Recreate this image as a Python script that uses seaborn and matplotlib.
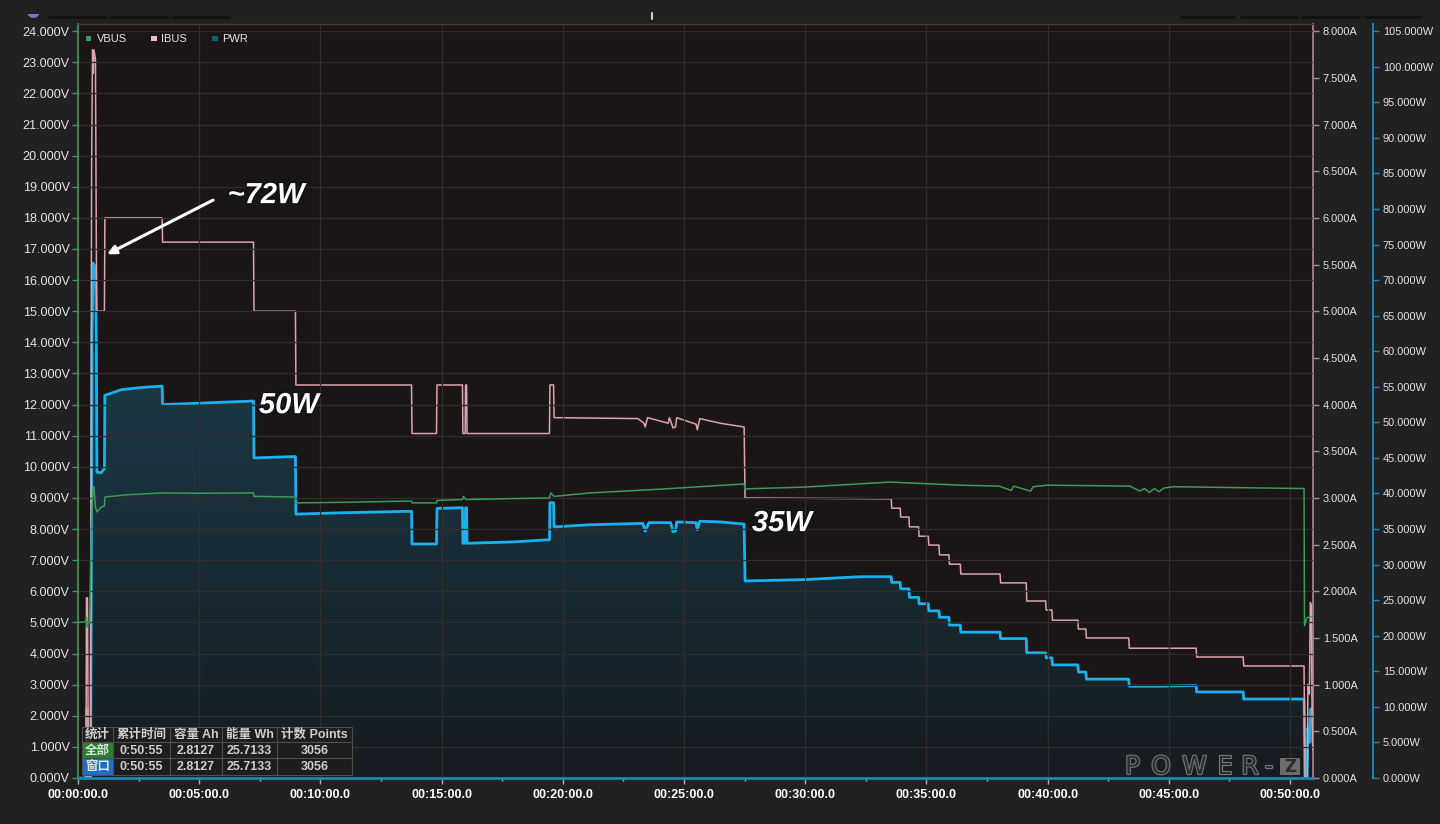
import numpy as np
import pandas as pd
import matplotlib
matplotlib.use("Agg")
import matplotlib.pyplot as plt
import seaborn as sns
from matplotlib.ticker import MultipleLocator, FuncFormatter
from matplotlib.patches import Rectangle, Ellipse
from matplotlib.colors import LinearSegmentedColormap
import matplotlib.patheffects as pe

# ---------------- data (time in minutes) ----------------
pwr_t = [
    0.00, 0.33, 0.37, 0.41, 0.45, 0.52, 0.58, 0.62, 0.66, 0.72,
    0.76, 0.78, 0.95, 1.09, 1.11, 1.80, 2.60, 3.47, 3.49, 5.00,
    7.24, 7.26, 8.97, 8.99, 11.0, 13.76, 13.78, 14.79, 14.81, 15.86,
    15.88, 15.97, 15.99, 16.03, 16.05, 18.0, 19.45, 19.47, 19.62, 19.64,
    21.1, 23.3, 23.4, 23.55, 24.45, 24.55, 24.65, 24.70, 25.50, 25.55,
    25.65, 26.5, 27.48, 27.52, 30.0, 32.3, 33.55, 33.57, 33.92, 33.94,
    34.28, 34.30, 34.68, 34.70, 35.08, 35.10, 35.52, 35.54, 35.93, 35.95,
    36.40, 36.42, 38.04, 38.06, 39.12, 39.14, 39.92, 39.94, 40.18, 40.20,
    41.25, 41.27, 41.58, 41.60, 43.35, 43.37, 44.70, 46.13, 46.15, 48.07,
    48.09, 50.58, 50.62, 50.70, 50.74, 50.80, 50.85, 50.90, 50.95]
pwr_w = [
    0, 0, 9.8, 2.0, 0, 0, 62.0, 72.4, 70.4, 72.0,
    60.0, 43.0, 42.9, 43.5, 53.8, 54.6, 54.9, 55.1, 52.5, 52.7,
    53.0, 45.0, 45.2, 37.1, 37.3, 37.5, 32.9, 32.9, 37.9, 38.0,
    33.0, 33.0, 38.0, 38.0, 33.0, 33.2, 33.5, 38.7, 38.7, 35.3,
    35.6, 35.8, 34.7, 35.9, 35.9, 34.6, 34.7, 36.0, 35.9, 34.9,
    36.1, 36.0, 35.7, 27.7, 27.9, 28.3, 28.3, 27.5, 27.5, 26.6,
    26.6, 25.4, 25.4, 24.5, 24.5, 23.5, 23.5, 22.6, 22.6, 21.5,
    21.5, 20.5, 20.5, 19.6, 19.6, 17.6, 17.6, 16.9, 16.9, 15.9,
    15.9, 14.9, 14.9, 13.9, 13.9, 12.9, 12.9, 13.0, 12.1, 12.1,
    11.1, 11.1, 0, 0, 7.0, 5.0, 9.6, 9.8, 9.0]

ibus_t = [
    0.00, 0.33, 0.35, 0.39, 0.43, 0.52, 0.56, 0.60, 0.63, 0.66,
    0.72, 0.76, 0.78, 1.09, 1.11, 3.47, 3.49, 7.24, 7.26, 8.97,
    8.99, 13.76, 13.78, 14.79, 14.81, 15.86, 15.88, 15.97, 15.99, 16.03,
    16.05, 19.45, 19.47, 19.62, 19.64, 23.1, 23.35, 23.4, 23.5, 24.35,
    24.4, 24.55, 24.65, 24.7, 25.5, 25.55, 25.65, 26.5, 27.48, 27.52,
    33.55, 33.57, 33.92, 33.94, 34.28, 34.30, 34.68, 34.70, 35.08, 35.10,
    35.52, 35.54, 35.93, 35.95, 36.40, 36.42, 38.04, 38.06, 39.12, 39.14,
    39.92, 39.94, 40.18, 40.20, 41.25, 41.27, 41.58, 41.60, 43.35, 43.37,
    46.13, 46.15, 48.07, 48.09, 50.58, 50.62, 50.72, 50.74, 50.80, 50.84,
    50.88, 50.92, 50.95]
ibus_a = [
    0, 0, 1.93, 1.93, 0, 0, 6.5, 7.8, 7.55, 7.8,
    7.7, 5.5, 5.0, 5.0, 6.0, 6.0, 5.74, 5.74, 5.0, 5.0,
    4.21, 4.21, 3.69, 3.69, 4.21, 4.21, 3.69, 3.69, 4.21, 4.21,
    3.69, 3.69, 4.21, 4.21, 3.86, 3.85, 3.80, 3.76, 3.86, 3.80,
    3.86, 3.75, 3.76, 3.86, 3.79, 3.73, 3.85, 3.80, 3.76, 3.00,
    2.99, 2.89, 2.89, 2.795, 2.795, 2.69, 2.69, 2.59, 2.59, 2.495,
    2.495, 2.39, 2.39, 2.29, 2.29, 2.185, 2.185, 2.09, 2.09, 1.896,
    1.896, 1.80, 1.80, 1.69, 1.69, 1.596, 1.596, 1.50, 1.50, 1.39,
    1.39, 1.296, 1.296, 1.20, 1.20, 0, 0, 1.0, 0.9, 1.88,
    1.85, 0.4, 0.3]

vbus_t = [
    0.00, 0.30, 0.35, 0.38, 0.41, 0.48, 0.55, 0.62, 0.66, 0.72,
    0.78, 0.95, 1.09, 1.11, 2.0, 3.47, 5.0, 7.24, 7.26, 8.97,
    8.99, 11.0, 13.76, 13.78, 14.79, 14.81, 15.86, 15.90, 16.0, 18.0,
    19.45, 19.50, 19.64, 21.1, 24.0, 27.48, 27.52, 30.0, 33.5, 36.4,
    38.0, 38.5, 38.6, 39.3, 39.4, 40.0, 43.4, 43.8, 44.0, 44.2,
    44.4, 44.6, 44.8, 45.2, 48.0, 50.58, 50.60, 50.70, 50.95]
vbus_v = [
    5.0, 5.02, 5.15, 4.85, 5.0, 5.0, 8.0, 9.3, 9.35, 8.7,
    8.55, 8.7, 8.75, 9.03, 9.1, 9.16, 9.15, 9.16, 9.05, 9.03,
    8.84, 8.86, 8.9, 8.84, 8.84, 8.92, 8.95, 9.05, 8.95, 8.98,
    9.0, 9.16, 9.05, 9.16, 9.28, 9.45, 9.29, 9.35, 9.51, 9.41,
    9.38, 9.24, 9.38, 9.22, 9.36, 9.41, 9.38, 9.22, 9.30, 9.18,
    9.30, 9.20, 9.32, 9.36, 9.33, 9.30, 4.9, 5.15, 5.2]

legend_labels = ["VBUS", "IBUS", "PWR"]
table_header = ["统计", "累计时间", "容量 Ah", "能量 Wh", "计数 Points"]
table_rows = [["全部", "0:50:55", "2.8127", "25.7133", "3056"],
              ["窗口", "0:50:55", "2.8127", "25.7133", "3056"]]
note_labels = ["~72W", "50W", "35W"]
logo_chars = ["P", "O", "W", "E", "R", "-"]

# ---------------- style ----------------
FIG_BG = "#212121"
PLOT_BG = "#1b1616"
GRID = "#322d2d"
C_V = "#3a9a5a"
C_I = "#dca4ae"
C_P = "#1ab2ee"
SP_V = "#3f9a5c"
SP_I = "#b08a92"
SP_P = "#1a86b8"
TXT = "#e4e4e4"

sns.set_theme(style="dark", rc={"figure.facecolor": FIG_BG, "axes.facecolor": PLOT_BG,
                                "savefig.facecolor": FIG_BG})
plt.rcParams["font.family"] = ["Liberation Sans", "Noto Sans CJK SC", "DejaVu Sans"]

W, H = 1440, 824
fig = plt.figure(figsize=(14.4, 8.24), dpi=100, facecolor=FIG_BG)
L, R, T, B = 78, 1313, 24, 778
ax = fig.add_axes([L / W, (H - B) / H, (R - L) / W, (B - T) / H])
ax2 = ax.twinx()
ax3 = ax.twinx()
ax3.set_zorder(1)
ax2.set_zorder(2)
ax.set_zorder(3)
ax.patch.set_visible(False)
ax2.patch.set_visible(False)
ax3.patch.set_visible(True)
ax3.patch.set_facecolor(PLOT_BG)

XMAX = 50.95
VMAX = 24.23

# ---------------- series ----------------
pwr_df = pd.DataFrame({"t": pwr_t, "w": pwr_w})
ibus_df = pd.DataFrame({"t": ibus_t, "a": ibus_a})
vbus_df = pd.DataFrame({"t": vbus_t, "v": vbus_v})

poly = ax3.fill_between(pwr_df["t"], pwr_df["w"], 0, facecolor="none", edgecolor="none")
cmap = LinearSegmentedColormap.from_list("g", ["#161c21", "#1b3a48"])
grad = np.linspace(0, 1, 256).reshape(-1, 1)
im = ax3.imshow(grad, extent=[0, XMAX, 0, 60], origin="lower", aspect="auto",
                cmap=cmap, zorder=1, interpolation="bilinear")
im.set_clip_path(poly.get_paths()[0], transform=ax3.transData)
sns.lineplot(data=pwr_df, x="t", y="w", ax=ax3, estimator=None, sort=False,
             color=C_P, linewidth=2.0, zorder=3)
sns.lineplot(data=ibus_df, x="t", y="a", ax=ax2, estimator=None, sort=False,
             color=C_I, linewidth=1.1, zorder=3)
sns.lineplot(data=vbus_df, x="t", y="v", ax=ax, estimator=None, sort=False,
             color=C_V, linewidth=1.1, zorder=3)

ax.set_xlim(0, XMAX)
ax3.set_xlim(0, XMAX)
ax.set_ylim(0, VMAX)
ax2.set_ylim(0, VMAX / 3)
ax3.set_ylim(0, VMAX * 105 / 24)
for a in (ax, ax2, ax3):
    a.set_xlabel("")
    a.set_ylabel("")

# ---------------- axes / ticks ----------------
def tfmt(v, pos):
    s = int(round(v * 60))
    return f"{s // 3600:02d}:{(s // 60) % 60:02d}:{s % 60:02d}.0"

ax.xaxis.set_major_locator(MultipleLocator(5))
ax.xaxis.set_minor_locator(MultipleLocator(2.5))
ax.xaxis.set_major_formatter(FuncFormatter(tfmt))
ax.yaxis.set_major_locator(MultipleLocator(1))
ax.yaxis.set_major_formatter(FuncFormatter(lambda v, p: f"{v:.3f}V"))
ax2.yaxis.set_major_locator(MultipleLocator(0.5))
ax2.yaxis.set_major_formatter(FuncFormatter(lambda v, p: f"{v:.3f}A"))
ax3.yaxis.set_major_locator(MultipleLocator(5))
ax3.yaxis.set_major_formatter(FuncFormatter(lambda v, p: f"{v:.3f}W"))

ax.tick_params(axis="x", which="major", bottom=True, length=4, width=1, color="#b0b0b0",
               labelsize=9, labelcolor="white", pad=4)
ax.tick_params(axis="x", which="minor", bottom=True, length=2.5, width=1, color="#b0b0b0")
ax.tick_params(axis="y", which="major", left=True, right=False, length=4, width=1, color=SP_V,
               labelsize=9.1, labelcolor=TXT, pad=2)
ax2.tick_params(axis="y", which="major", right=True, left=False, length=4, width=1, color=SP_I,
                labelsize=7.9, labelcolor=TXT, pad=3)
ax3.tick_params(axis="y", which="major", right=True, left=False, length=4, width=1, color=SP_P,
                labelsize=7.9, labelcolor=TXT, pad=3)
for lbl in ax.get_xticklabels():
    lbl.set_fontweight("bold")

ax.grid(True, which="major", axis="both", color=GRID, linewidth=0.9)
ax2.grid(False)
ax3.grid(False)

for a in (ax, ax2, ax3):
    for s in a.spines.values():
        s.set_visible(False)
ax.spines["left"].set_visible(True)
ax.spines["left"].set_color(SP_V)
ax.spines["left"].set_linewidth(1.2)
ax.spines["bottom"].set_visible(True)
ax.spines["bottom"].set_color(SP_P)
ax.spines["bottom"].set_linewidth(2.0)
ax.spines["top"].set_visible(True)
ax.spines["top"].set_color("#4f3a28")
ax.spines["top"].set_linewidth(1.0)
ax2.spines["right"].set_visible(True)
ax2.spines["right"].set_color(SP_I)
ax2.spines["right"].set_linewidth(1.2)
ax3.spines["right"].set_visible(True)
ax3.spines["right"].set_position(("outward", 43.2))   # 60 px
ax3.spines["right"].set_color(SP_P)
ax3.spines["right"].set_linewidth(1.4)

# ---------------- annotations ----------------
ann_font = ["Liberation Sans", "DejaVu Sans"]
stroke = [pe.withStroke(linewidth=2.2, foreground="#111111")]
ax.annotate("", xy=(1.20, 16.83), xytext=(5.57, 18.57),
            arrowprops=dict(arrowstyle="-|>", color="white", lw=2.2, mutation_scale=13,
                            shrinkA=0, shrinkB=0))
note_pos = [(7.76, 18.73), (8.70, 11.98), (29.04, 8.19)]
for txt, (tx, ty) in zip(note_labels, note_pos):
    ax.text(tx, ty, txt, ha="center", va="center", fontsize=21, color="white",
            fontweight="bold", fontstyle="italic", family=ann_font,
            path_effects=stroke, zorder=10)

# ---------------- overlay (pixel coords) ----------------
ov = fig.add_axes([0, 0, 1, 1])
ov.set_xlim(0, W)
ov.set_ylim(H, 0)
ov.axis("off")
ov.set_zorder(6)

# legend
leg_cols = [C_V, "#f4b8c4", "#145f78"]
leg_sq_x = [85.5, 151, 212]
leg_tx_x = [96.5, 161.5, 222]
for lab, col, sx, tx in zip(legend_labels, leg_cols, leg_sq_x, leg_tx_x):
    ov.add_patch(Rectangle((sx, 35.5), 5.5, 5.5, facecolor=col, edgecolor="none"))
    ov.text(tx, 38.6, lab, ha="left", va="center", fontsize=8.0, color=TXT)

# toolbar decorations at top
pill = Ellipse((33.5, 8), 15, 20, facecolor="#7a70d8", edgecolor="none")
ov.add_patch(pill)
clip = Rectangle((20, 14), 30, 10, transform=ov.transData)
pill.set_clip_path(clip)
for x0, x1 in [(48, 107), (110, 168), (172, 230), (1180, 1235), (1240, 1298),
               (1302, 1360), (1364, 1422)]:
    ov.plot([x0, x1], [16.5, 16.5], color="#131313", lw=2, solid_capstyle="butt")
ov.plot([652, 652], [13, 19], color="#cfcfcf", lw=1.5)

# stats table
cols = [82, 113, 170, 222, 277, 352]
rows = [727, 742, 758, 775]
ov.add_patch(Rectangle((cols[0], rows[0]), cols[-1] - cols[0], rows[-1] - rows[0],
                       facecolor="#1e1e1e", alpha=0.88, edgecolor="none"))
ov.add_patch(Rectangle((cols[0], rows[1]), cols[1] - cols[0], rows[2] - rows[1],
                       facecolor="#2e7d32", edgecolor="none"))
ov.add_patch(Rectangle((cols[0], rows[2]), cols[1] - cols[0], rows[3] - rows[2],
                       facecolor="#1f6cc4", edgecolor="none"))
for x in cols:
    ov.plot([x, x], [rows[0], rows[-1]], color="#4e4e4e", lw=0.8)
for y in rows:
    ov.plot([cols[0], cols[-1]], [y, y], color="#4e4e4e", lw=0.8)
tbl_font = ["Liberation Sans", "Noto Sans CJK SC"]
all_rows = [table_header] + table_rows
for ri, row in enumerate(all_rows):
    yc = (rows[ri] + rows[ri + 1]) / 2
    for ci, cell in enumerate(row):
        xc = (cols[ci] + cols[ci + 1]) / 2
        col = "#d8e8d8" if (ri > 0 and ci == 0) else "#cfcfcf"
        ov.text(xc, yc + 0.5, cell, ha="center", va="center", fontsize=9.0,
                fontweight="bold", color=col, family=tbl_font)

# POWER-Z logo (real text, letter by letter)
logo_x = [1132.5, 1161, 1194.5, 1225, 1250, 1269]
logo_stroke = [pe.withStroke(linewidth=1.6, foreground="#767676")]
for ch, lx in zip(logo_chars, logo_x):
    ov.text(lx, 767, ch, ha="center", va="center", fontsize=18, color="#2a2d31",
            family=["DejaVu Sans"], path_effects=logo_stroke)
ov.add_patch(Rectangle((1280, 758), 20, 17, facecolor="#6c6c6c", edgecolor="none"))
ov.text(1290, 766.8, "Z", ha="center", va="center", fontsize=12, fontweight="bold",
        color="#2a2a2a", family=["DejaVu Sans"])

fig.savefig("out.png", dpi=100, facecolor=FIG_BG)
